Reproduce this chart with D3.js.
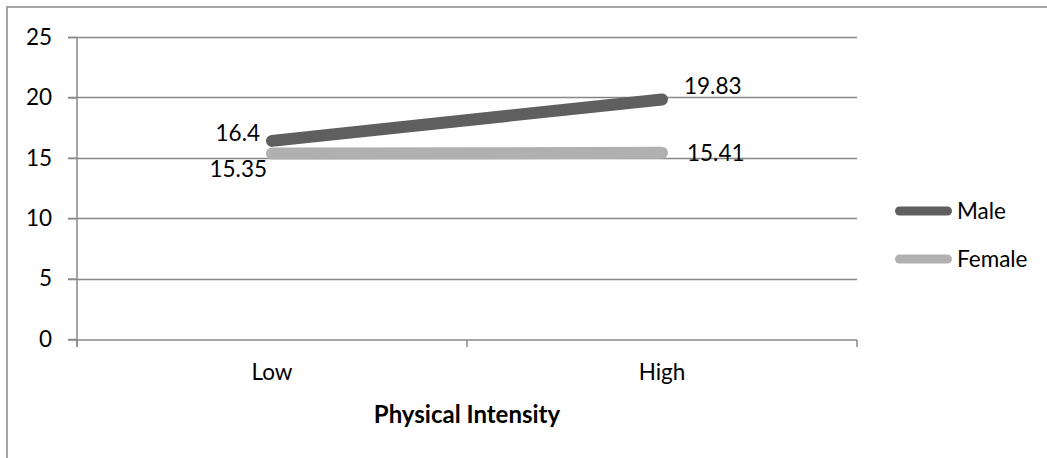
<!DOCTYPE html>
<html><head><meta charset="utf-8">
<script src="https://cdn.jsdelivr.net/npm/d3@7"></script>
<style>body{margin:0;background:#fff}svg{display:block;font-family:Lato,"Open Sans",sans-serif}</style>
</head><body>
<svg id="c" width="1047" height="458"></svg>
<script>
const categories = ["Low", "High"];
const seriesNames = ["Male", "Female"];
const maleValues = [16.4, 19.83];
const femaleValues = [15.35, 15.41];
const yTicks = [0, 5, 10, 15, 20, 25];
const xTitle = "Physical Intensity";
const colors = ["#5f5f5f", "#b0b0b0"];

const svg = d3.select("#c");
const pLeft = 77, pRight = 857, pTop = 37, pBottom = 339;
const x = d3.scaleBand().domain(categories).range([pLeft, pRight]);
const y = d3.scaleLinear().domain([0, 25]).range([pBottom, pTop]);
const fs = 22.5;

// outer frame
svg.append("path").attr("d", "M7,458 V7 H1047").attr("fill", "none").attr("stroke", "#888").attr("stroke-width", 1.5);

// gridlines
svg.append("g").selectAll("line").data(yTicks.filter(d => d > 0)).join("line")
  .attr("x1", pLeft - 9).attr("x2", pRight).attr("y1", d => Math.round(y(d)) + 0.5).attr("y2", d => Math.round(y(d)) + 0.5)
  .attr("stroke", "#888").attr("stroke-width", 1.5);

// y axis
const ya = svg.append("g").attr("transform", `translate(${pLeft},0)`)
  .call(d3.axisLeft(y).tickValues(yTicks).tickSize(9).tickPadding(16));
ya.selectAll("line").attr("stroke", "#888").attr("stroke-width", 1.5);
ya.select(".domain").attr("stroke", "#888").attr("stroke-width", 1.5).attr("d", `M0,${y(25)}V${y(0) + 8}`);
ya.selectAll("text").attr("font-size", fs).attr("font-family", "Lato").attr("fill", "#000");

// x axis
const xa = svg.append("g").attr("transform", `translate(0,${pBottom + 1})`)
  .call(d3.axisBottom(x).tickSize(0).tickPadding(24));
xa.select(".domain").attr("stroke", "#888").attr("stroke-width", 1.5).attr("d", `M${pLeft - 9},0H${pRight}`);
xa.selectAll("text").attr("font-size", fs).attr("font-family", "Lato").attr("fill", "#000");
const bounds = [pLeft].concat(categories.map(c => x(c) + x.bandwidth()));
svg.append("g").selectAll("line").data(bounds).join("line")
  .attr("x1", d => d).attr("x2", d => d).attr("y1", pBottom + 1).attr("y2", pBottom + 8)
  .attr("stroke", "#888").attr("stroke-width", 1.5);

svg.append("text").attr("x", (pLeft + pRight) / 2).attr("y", 415).attr("dy", "0.35em").attr("text-anchor", "middle")
  .attr("font-size", 24).attr("font-weight", "bold").text(xTitle);

// lines
const cx = c => x(c) + x.bandwidth() / 2;
const line = d3.line().x((d, i) => cx(categories[i])).y(d => y(d));
[[femaleValues, 1], [maleValues, 0]].forEach(([vals, idx]) => {
  svg.append("path").attr("d", line(vals)).attr("fill", "none")
    .attr("stroke", colors[idx]).attr("stroke-width", 12).attr("stroke-linecap", "round");
});

// data labels
const lbl = (t, xx, yy, anchor) => svg.append("text").attr("x", xx).attr("y", yy).attr("dy", "0.35em")
  .attr("text-anchor", anchor).attr("font-size", fs).text(t);
lbl(maleValues[0], cx("Low") - 12, y(maleValues[0]) - 8, "end");
lbl(femaleValues[0], cx("Low") - 5, y(femaleValues[0]) + 16, "end");
lbl(maleValues[1], cx("High") + 22, y(maleValues[1]) - 13, "start");
lbl(femaleValues[1], cx("High") + 25, y(femaleValues[1]), "start");

// legend
seriesNames.forEach((n, i) => {
  const ly = 211 + i * 48;
  svg.append("line").attr("x1", 899.5).attr("x2", 947.5).attr("y1", ly).attr("y2", ly)
    .attr("stroke", colors[i]).attr("stroke-width", 9).attr("stroke-linecap", "round");
  svg.append("text").attr("x", 957).attr("y", ly).attr("dy", "0.35em").attr("font-size", fs).text(n);
});
</script>
</body></html>
